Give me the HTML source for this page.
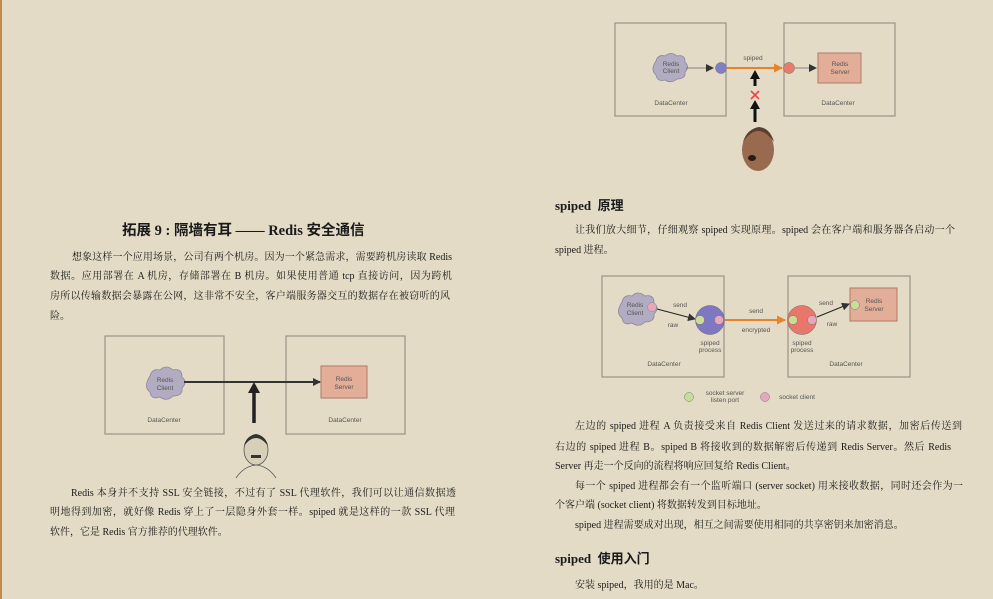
<!DOCTYPE html>
<html><head><meta charset="utf-8"><style>
*{margin:0;padding:0;box-sizing:border-box}
body{width:993px;height:599px;background:#e3dbc5;position:relative;overflow:hidden;font-family:"Liberation Serif","Noto Serif CJK SC",serif;color:#1a1a1a}
.l{position:absolute;font-size:10px;line-height:14px;white-space:nowrap;text-align:justify;text-align-last:justify}
.h{position:absolute;font-weight:bold;white-space:nowrap;font-family:"Liberation Serif","Noto Sans CJK SC",serif}
svg{position:absolute;left:0;top:0}
svg text{font-family:"Liberation Sans",sans-serif;fill:#555}
</style></head><body>
<div style="position:absolute;left:0;top:0;width:2px;height:599px;background:#c08a50"></div>

<div class="h" style="left:122px;top:219px;font-size:14.5px">拓展 9 : 隔墙有耳 —— Redis 安全通信</div>
<div class="l" style="left:72px;top:251px;width:380px">想象这样一个应用场景，公司有两个机房。因为一个紧急需求，需要跨机房读取 Redis</div>
<div class="l" style="left:50px;top:270px;width:402px">数据。应用部署在 A 机房，存储部署在 B 机房。如果使用普通 tcp 直接访问，因为跨机</div>
<div class="l" style="left:50px;top:290px;width:400px">房所以传输数据会暴露在公网，这非常不安全，客户端服务器交互的数据存在被窃听的风</div>
<div class="l" style="left:50px;top:310px;text-align-last:auto">险。</div>

<div class="l" style="left:71px;top:487px;width:385px">Redis 本身并不支持 SSL 安全链接，不过有了 SSL 代理软件，我们可以让通信数据透</div>
<div class="l" style="left:50px;top:506px;width:405px">明地得到加密，就好像 Redis 穿上了一层隐身外套一样。spiped 就是这样的一款 SSL 代理</div>
<div class="l" style="left:50px;top:526px;text-align-last:auto">软件，它是 Redis 官方推荐的代理软件。</div>

<div class="h" style="left:555px;top:195px;font-size:13px">spiped&nbsp; 原理</div>
<div class="l" style="left:575px;top:224px;width:380px">让我们放大细节，仔细观察 spiped 实现原理。spiped 会在客户端和服务器各启动一个</div>
<div class="l" style="left:555px;top:244px;text-align-last:auto">spiped 进程。</div>

<div class="l" style="left:575px;top:420px;width:387px">左边的 spiped 进程 A 负责接受来自 Redis Client 发送过来的请求数据，加密后传送到</div>
<div class="l" style="left:555px;top:441px;width:396px">右边的 spiped 进程 B。spiped B 将接收到的数据解密后传递到 Redis Server。然后 Redis</div>
<div class="l" style="left:555px;top:460px;text-align-last:auto">Server 再走一个反向的流程将响应回复给 Redis Client。</div>
<div class="l" style="left:575px;top:480px;width:388px">每一个 spiped 进程都会有一个监听端口 (server socket) 用来接收数据，同时还会作为一</div>
<div class="l" style="left:555px;top:499px;text-align-last:auto">个客户端 (socket client) 将数据转发到目标地址。</div>
<div class="l" style="left:575px;top:519px;text-align-last:auto">spiped 进程需要成对出现，相互之间需要使用相同的共享密钥来加密消息。</div>
<div class="h" style="left:555px;top:548px;font-size:13px">spiped&nbsp; 使用入门</div>
<div class="l" style="left:575px;top:579px;text-align-last:auto">安装 spiped，我用的是 Mac。</div>

<svg width="993" height="599" viewBox="0 0 993 599">
<defs>
<marker id="a" markerWidth="8" markerHeight="8" refX="7" refY="4" orient="auto" markerUnits="userSpaceOnUse"><path d="M0,0 L8,4 L0,8z" fill="#333"/></marker>
<marker id="o" markerWidth="9" markerHeight="9" refX="8" refY="4.5" orient="auto" markerUnits="userSpaceOnUse"><path d="M0,0 L9,4.5 L0,9z" fill="#e8832a"/></marker>
</defs>
<g fill="none" stroke="#9a9388" stroke-width="1.2">
<rect x="105" y="336" width="119" height="98"/><rect x="286" y="336" width="119" height="98"/>
<rect x="615" y="23" width="111" height="93"/><rect x="784" y="23" width="111" height="93"/>
<rect x="602" y="276" width="122" height="101"/><rect x="788" y="276" width="122" height="101"/>
</g>
<g font-size="6.5" text-anchor="middle">
<path d="M150,376 q2,-8 10,-6 q6,-6 13,0 q9,-2 9,7 q6,5 0,11 q1,8 -9,8 q-6,6 -13,1 q-9,3 -10,-5 q-7,-5 0,-16z" fill="#b2acc2" stroke="#8a84a0" stroke-width=".8"/>
<text x="165" y="382">Redis</text><text x="165" y="390">Client</text>
<rect x="321" y="366" width="46" height="32" fill="#e3ae98" stroke="#b07a66"/>
<text x="344" y="381">Redis</text><text x="344" y="389">Server</text>
<line x1="184" y1="382" x2="320" y2="382" stroke="#333" stroke-width="2" marker-end="url(#a)"/>
<line x1="254" y1="423" x2="254" y2="392" stroke="#222" stroke-width="3.5"/>
<path d="M248,393 L254,382 L260,393z" fill="#222"/>
<text x="164" y="422">DataCenter</text><text x="345" y="422">DataCenter</text>
<ellipse cx="256" cy="450" rx="12" ry="15" fill="#d8cfb8" stroke="#555" stroke-width=".8"/>
<path d="M244,446 q12,-16 24,0 q-2,-10 -12,-12 q-10,2 -12,12z" fill="#333"/>
<rect x="251" y="455" width="10" height="3" fill="#333"/>
<path d="M236,478 q8,-12 20,-13 q12,1 20,13" fill="none" stroke="#555" stroke-width=".8"/>
<path d="M656,61 q2,-7 9,-5 q6,-5 12,0 q8,-2 8,6 q5,5 0,10 q1,7 -8,7 q-6,5 -12,1 q-8,2 -9,-5 q-6,-5 0,-14z" fill="#b2acc2" stroke="#8a84a0" stroke-width=".8"/>
<text x="671" y="66">Redis</text><text x="671" y="73">Client</text>
<line x1="686" y1="68" x2="713" y2="68" stroke="#666" stroke-width=".8" marker-end="url(#a)"/>
<circle cx="721" cy="68" r="5.5" fill="#7f7fc4" stroke="#666" stroke-width=".5"/>
<line x1="727" y1="68" x2="782" y2="68" stroke="#e8832a" stroke-width="2" marker-end="url(#o)"/>
<circle cx="789" cy="68" r="5.5" fill="#e87c6c" stroke="#666" stroke-width=".5"/>
<line x1="795" y1="68" x2="816" y2="68" stroke="#666" stroke-width=".8" marker-end="url(#a)"/>
<rect x="818" y="53" width="43" height="30" fill="#e3ae98" stroke="#b07a66"/>
<text x="840" y="66">Redis</text><text x="840" y="74">Server</text>
<text x="753" y="60">spiped</text>
<text x="671" y="105">DataCenter</text><text x="838" y="105">DataCenter</text>
<line x1="755" y1="122" x2="755" y2="108" stroke="#111" stroke-width="3"/><path d="M750,109 L755,100 L760,109z" fill="#111"/>
<line x1="755" y1="86" x2="755" y2="78" stroke="#111" stroke-width="3"/><path d="M750,79 L755,70 L760,79z" fill="#111"/>
<path d="M751,91 L759,99 M759,91 L751,99" stroke="#e44" stroke-width="1.6"/>
<ellipse cx="758" cy="150" rx="16" ry="21" fill="#9a6a50"/>
<path d="M743,142 q15,-22 31,0 q-4,-14 -15,-15 q-12,2 -16,15z" fill="#5a4030"/>
<ellipse cx="752" cy="158" rx="4" ry="3" fill="#2a1a14"/>
<path d="M622,302 q2,-8 10,-6 q6,-6 13,0 q9,-2 9,7 q6,5 0,11 q1,8 -9,8 q-6,6 -13,1 q-9,3 -10,-5 q-7,-5 0,-16z" fill="#b2acc2" stroke="#8a84a0" stroke-width=".8"/>
<text x="635" y="307">Redis</text><text x="635" y="315">Client</text>
<circle cx="652" cy="307" r="4.5" fill="#e8a6bc" stroke="#888" stroke-width=".5"/>
<line x1="657" y1="309" x2="695" y2="319" stroke="#222" stroke-width="1" marker-end="url(#a)"/>
<circle cx="710" cy="320" r="14.5" fill="#7e78c2" stroke="#666" stroke-width=".5"/>
<circle cx="700" cy="320" r="4.5" fill="#c9de95" stroke="#777" stroke-width=".5"/>
<circle cx="719" cy="320" r="4.5" fill="#e8a6bc" stroke="#777" stroke-width=".5"/>
<line x1="725" y1="320" x2="785" y2="320" stroke="#e8832a" stroke-width="2" marker-end="url(#o)"/>
<circle cx="802" cy="320" r="14.5" fill="#e8766a" stroke="#666" stroke-width=".5"/>
<circle cx="793" cy="320" r="4.5" fill="#c9de95" stroke="#777" stroke-width=".5"/>
<circle cx="812" cy="320" r="4.5" fill="#e8a6bc" stroke="#777" stroke-width=".5"/>
<rect x="850" y="288" width="47" height="33" fill="#e3ae98" stroke="#b07a66"/>
<text x="874" y="303">Redis</text><text x="874" y="311">Server</text>
<circle cx="855" cy="305" r="4.5" fill="#c9de95" stroke="#777" stroke-width=".5"/>
<line x1="817" y1="317" x2="849" y2="304" stroke="#222" stroke-width="1" marker-end="url(#a)"/>
<text x="680" y="307">send</text><text x="673" y="327">raw</text>
<text x="710" y="345">spiped</text><text x="710" y="352">process</text>
<text x="756" y="313">send</text><text x="756" y="332">encrypted</text>
<text x="826" y="305">send</text><text x="832" y="326">raw</text>
<text x="802" y="345">spiped</text><text x="802" y="352">process</text>
<text x="664" y="366">DataCenter</text><text x="846" y="366">DataCenter</text>
<circle cx="689" cy="397" r="4.5" fill="#c9de95" stroke="#777" stroke-width=".5"/>
<text x="725" y="395">socket server</text><text x="725" y="402">listen port</text>
<circle cx="765" cy="397" r="4.5" fill="#e8a6bc" stroke="#777" stroke-width=".5"/>
<text x="797" y="399">socket client</text>
</g>
</svg>
</body></html>
